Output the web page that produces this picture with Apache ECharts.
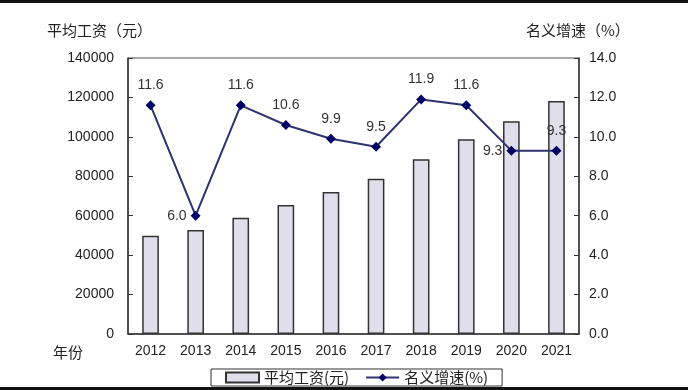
<!DOCTYPE html>
<html><head><meta charset="utf-8">
<script src="https://cdn.jsdelivr.net/npm/echarts@6/dist/echarts.min.js"></script>
<style>html,body{margin:0;padding:0;background:#fff}#c{width:688px;height:390px}</style>
</head><body><div id="c"></div>
<script>
const years = ['2012','2013','2014','2015','2016','2017','2018','2019','2020','2021'];
const wages = [49900, 52800, 59000, 65400, 72000, 78800, 88600, 98800, 107900, 118200];
const growth = [11.6, 6.0, 11.6, 10.6, 9.9, 9.5, 11.9, 11.6, 9.3, 9.3];
const labelLeftIdx = [1, 8];

const FONT = '"Liberation Sans", Arial, sans-serif';
const CJK = '"Noto Sans CJK SC", sans-serif';
const chart = echarts.init(document.getElementById('c'));
chart.setOption({
  animation: false,
  backgroundColor: '#fff',
  grid: {left: 128, right: 109, top: 58, bottom: 56, show: true, borderColor: '#555', borderWidth: 1},
  legend: {
    bottom: 4, left: 211,
    itemGap: 16, itemWidth: 33, itemHeight: 10,
    padding: [1, 14, 1, 14],
    borderColor: '#333', borderWidth: 1, borderRadius: 0,
    textStyle: {fontFamily: CJK, fontSize: 15, color: '#222'},
    data: [
      {name: '平均工资(元)', icon: 'rect'},
      {name: '名义增速(%)'}
    ]
  },
  xAxis: {
    type: 'category', data: years,
    axisLine: {lineStyle: {color: '#333', width: 1.5}},
    axisTick: {inside: true, length: 5, lineStyle: {color: '#333'}},
    axisLabel: {fontFamily: FONT, fontSize: 14, color: '#222', margin: 10}
  },
  yAxis: [
    {type: 'value', min: 0, max: 140000, interval: 20000,
     axisLine: {show: true, lineStyle: {color: '#333', width: 1.5}},
     axisTick: {show: true, inside: true, length: 5, lineStyle: {color: '#333'}},
     splitLine: {show: false},
     axisLabel: {fontFamily: FONT, fontSize: 14, color: '#222', margin: 14, formatter: v => String(v)}},
    {type: 'value', min: 0, max: 14, interval: 2,
     axisLine: {show: true, lineStyle: {color: '#333', width: 1.5}},
     axisTick: {show: true, inside: true, length: 5, lineStyle: {color: '#333'}},
     splitLine: {show: false},
     axisLabel: {fontFamily: FONT, fontSize: 14, color: '#222', margin: 10,
       formatter: v => v.toFixed(1)}}
  ],
  series: [
    {name: '平均工资(元)', type: 'bar', data: wages, barWidth: '37%',
     itemStyle: {color: '#e1deeb', borderColor: '#333', borderWidth: 1.5}},
    {name: '名义增速(%)', type: 'line', yAxisIndex: 1,
     data: growth.map((v, i) => ({value: v, label: {position: labelLeftIdx.includes(i) ? 'left' : 'top', distance: labelLeftIdx.includes(i) ? 4 : 8}})),
     symbol: 'diamond', symbolSize: 10,
     lineStyle: {color: '#2e3370', width: 2},
     itemStyle: {color: '#000066'},
     label: {show: true, fontFamily: FONT, fontSize: 14, color: '#333', formatter: p => p.value.toFixed(1)}}
  ],
  graphic: [
    {type: 'rect', shape: {x: 0, y: 0, width: 688, height: 3}, style: {fill: '#111'}},
    {type: 'rect', shape: {x: 0, y: 387, width: 688, height: 3}, style: {fill: '#111'}},
    {type: 'text', left: 47, top: 23, style: {text: '平均工资（元）', font: '15px "Noto Sans CJK SC"', fill: '#222'}},
    {type: 'text', left: 526, top: 23, style: {text: '名义增速（%）', font: '15px "Noto Sans CJK SC"', fill: '#222'}},
    {type: 'text', left: 53, top: 345, style: {text: '年份', font: '15px "Noto Sans CJK SC"', fill: '#222'}}
  ]
});
</script></body></html>
